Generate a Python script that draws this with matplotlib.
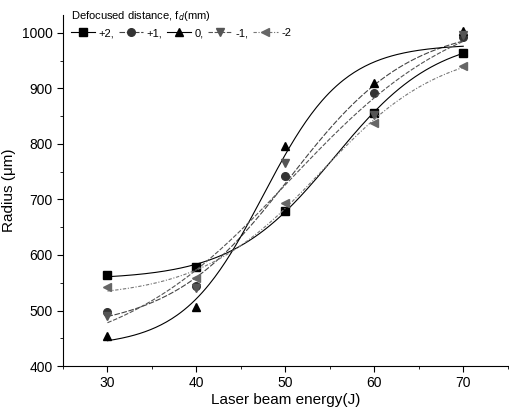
import numpy as np
import matplotlib as mpl
mpl.use('Agg')
import matplotlib.pyplot as plt
from matplotlib.ticker import MultipleLocator

plt.rcParams['font.family'] = ['Liberation Sans', 'DejaVu Sans']

energy = [30, 40, 50, 60, 70]
r_p2 = [564, 579, 680, 856, 964]
r_p1 = [497, 545, 743, 892, 992]
r_0 = [454, 507, 797, 910, 1003]
r_m1 = [491, 540, 766, 852, 996]
r_m2 = [543, 559, 694, 838, 940]

labels = ['+2,', '+1,', '0,', '-1,', '-2']
series = [r_p2, r_p1, r_0, r_m1, r_m2]
markers = ['s', 'o', '^', 'v', '<']
mcolors = ['black', '#333333', 'black', '#555555', '#666666']
lcolors = ['black', '#444444', 'black', '#555555', '#777777']
lstyles = ['-', (0, (5, 1.5)), '-', (0, (4, 1.5)), (0, (3, 1.5, 1, 1.5))]


def boltzmann_fit(x, y):
	# grid search over x0, dx; linear least squares for A1, A2
	x = np.asarray(x, float)
	y = np.asarray(y, float)
	best = None
	for x0 in np.linspace(35, 75, 161):
		for dx in np.linspace(3, 30, 109):
			s = 1.0 / (1 + np.exp((x - x0) / dx))
			M = np.column_stack([s, 1 - s])
			coef, *_ = np.linalg.lstsq(M, y, rcond=None)
			err = np.sum((M @ coef - y) ** 2)
			if best is None or err < best[0]:
				best = (err, x0, dx, coef)
	_, x0, dx, (a1, a2) = best
	return lambda t: a2 + (a1 - a2) / (1 + np.exp((t - x0) / dx))


fig = plt.figure(figsize=(5.1, 4.16), dpi=100)
ax = fig.add_axes([0.1235, 0.12, 0.872, 0.844])

xs = np.linspace(30, 70, 200)
for y, lab, m, mc, lc, ls in zip(series, labels, markers, mcolors, lcolors, lstyles):
	f = boltzmann_fit(energy, y)
	ax.plot(xs, f(xs), color=lc, lw=0.8, ls=ls)
	ax.plot(energy, y, ls='none', marker=m, color=mc, ms=5.5)
	# legend handle
	ax.plot([], [], color=lc, lw=0.8, ls=ls, marker=m, mfc=mc, mec=mc, ms=5.5, label=lab)

ax.set_xlim(25, 75)
ax.set_ylim(400, 1032)
ax.xaxis.set_major_locator(MultipleLocator(10))
ax.xaxis.set_minor_locator(MultipleLocator(5))
ax.yaxis.set_major_locator(MultipleLocator(100))
ax.yaxis.set_minor_locator(MultipleLocator(50))
ax.tick_params(which='both', direction='out', labelsize=10)
ax.tick_params(which='major', length=4)
ax.tick_params(which='minor', length=2)
ax.spines['top'].set_visible(False)
ax.spines['right'].set_visible(False)

ax.set_xlabel('Laser beam energy(J)', fontsize=11, labelpad=2)
ax.set_ylabel('Radius (\u03bcm)', fontsize=11, labelpad=4)

leg = ax.legend(loc='upper left', ncol=5, frameon=False, fontsize=8,
	title='Defocused distance, f$_d$(mm)', title_fontsize=8,
	handlelength=2.2, columnspacing=0.4, handletextpad=0.3,
	bbox_to_anchor=(0.0, 1.04), borderaxespad=0.3)
leg._legend_box.align = 'left'

fig.savefig('out.png', dpi=100)
